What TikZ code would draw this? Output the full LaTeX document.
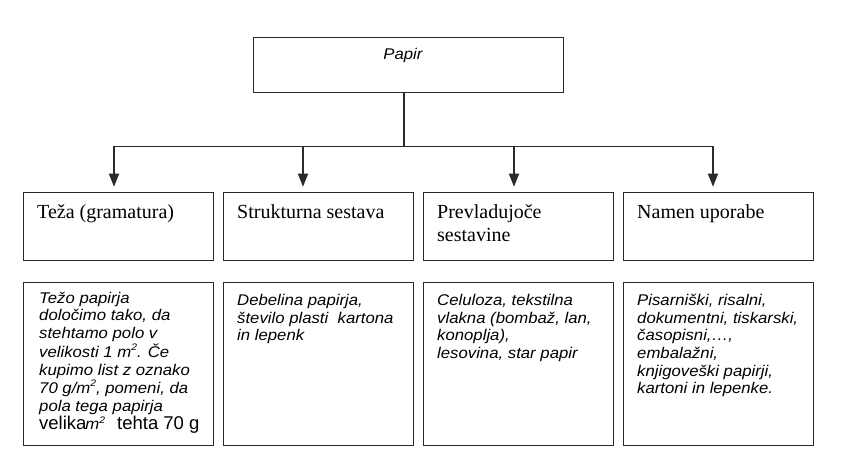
\documentclass[tikz,border=0pt]{standalone}
\usepackage{fontspec}
\setmainfont{Liberation Serif}
\newfontfamily\arialf[FakeStretch=1.08]{Liberation Sans}
\newfontfamily\arialu{Liberation Sans}
\usetikzlibrary{arrows.meta}
\definecolor{linec}{HTML}{2A2A2A}
\newcommand\mysup[1]{\raisebox{0.42em}{\fontsize{9.5}{9.5}\selectfont #1}}
\tikzset{
  box/.style={draw=linec, line width=1.3pt, inner sep=0pt, anchor=north west,
              minimum width=190pt},
  midbox/.style={box, minimum height=68pt},
  lowbox/.style={box, minimum height=163pt},
  conn/.style={draw=linec, line width=1.3pt},
  arr/.style={conn, -{Triangle[width=10pt,length=13pt]}, shorten >=5.3pt},
  midtxt/.style={anchor=base west, inner sep=0pt, font=\fontsize{20}{23}\selectfont},
  lowtxt/.style={anchor=base west, inner sep=0pt,
                 font=\arialf\itshape\fontsize{15.5}{17.63}\selectfont},
}
\begin{document}
\begin{tikzpicture}[x=1pt,y=-1pt]
\useasboundingbox (0,0) rectangle (847,455);
\fill[white] (0,0) rectangle (847,455);

% top box
\node[box, minimum width=310pt, minimum height=55pt] (top) at (253,37) {};
\node[anchor=base, inner sep=0pt, font=\arialf\itshape\fontsize{15.5}{17.63}\selectfont] (tp) at (403,59) {Papir};

% middle boxes
\node[midbox] (m1) at (23,192) {};
\node[midbox] (m2) at (223,192) {};
\node[midbox] (m3) at (423,192) {};
\node[midbox] (m4) at (623,192) {};

\node[midtxt] (mt1) at (37,218) {Teža (gramatura)};
\node[midtxt] (mt2) at (237,218) {Strukturna sestava};
\node[midtxt] (mt3) at (437,218) {\begin{tabular}[t]{@{}l@{}}Prevladujoče\\ sestavine\end{tabular}};
\node[midtxt] (mt4) at (637,218) {Namen uporabe};

% lower boxes
\node[lowbox] (l1) at (23,282) {};
\node[lowbox] (l2) at (223,282) {};
\node[lowbox] (l3) at (423,282) {};
\node[lowbox] (l4) at (623,282) {};

\node[lowtxt] (lt1) at (39,303.3) {\begin{tabular}[t]{@{}l@{}}
Težo papirja\\
določimo tako, da\\
stehtamo polo v\\
velikosti 1 m\mysup{2}. Če\\
kupimo list z oznako\\
70 g/m\mysup{2}, pomeni, da\\
pola tega papirja\\
{\arialu\upshape\fontsize{18.5}{17.63}\selectfont velika}\kern-1pt m\mysup{2}\hspace*{12pt}{\arialu\upshape\fontsize{18.5}{17.63}\selectfont tehta 70 g}
\end{tabular}};
\node[lowtxt] (lt2) at (237,305.7) {\begin{tabular}[t]{@{}l@{}}
Debelina papirja,\\
število plasti\ \ kartona\\
in lepenk
\end{tabular}};
\node[lowtxt] (lt3) at (437,305.7) {\begin{tabular}[t]{@{}l@{}}
Celuloza, tekstilna\\
vlakna (bombaž, lan,\\
konoplja),\\
lesovina, star papir
\end{tabular}};
\node[lowtxt] (lt4) at (637,305.7) {\begin{tabular}[t]{@{}l@{}}
Pisarniški, risalni,\\
dokumentni, tiskarski,\\
časopisni,…,\\
embalažni,\\
knjigoveški papirji,\\
kartoni in lepenke.
\end{tabular}};

% connectors
\coordinate (j) at (404,146.7);
\coordinate (b1) at (114,146.7);
\coordinate (b2) at (303,146.7);
\coordinate (b3) at (514,146.7);
\coordinate (b4) at (713,146.7);
\draw[conn] (top.south -| j) -- (j);
\draw[conn, line cap=rect] (b1) -- (b4);
\draw[arr] (b1) -- (b1 |- m1.north);
\draw[arr] (b2) -- (b2 |- m2.north);
\draw[arr] (b3) -- (b3 |- m3.north);
\draw[arr] (b4) -- (b4 |- m4.north);
\end{tikzpicture}
\end{document}
